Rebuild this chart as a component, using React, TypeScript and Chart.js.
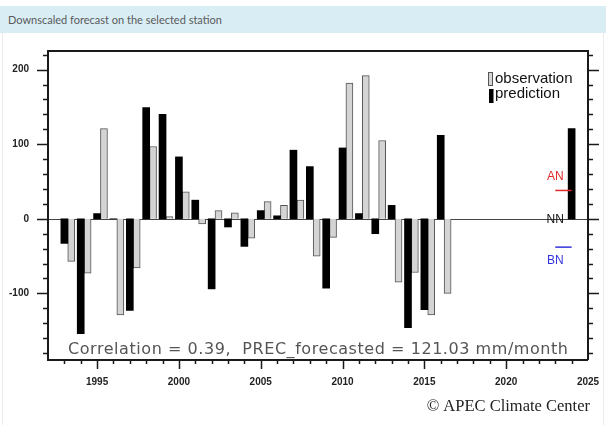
import React, { useEffect, useRef } from "react";
import { Chart, registerables } from "chart.js";

Chart.register(...registerables);

// ---- data ----
const PRED_YEARS = [1993, 1994, 1995, 1996, 1997, 1998, 1999, 2000, 2001, 2002, 2003, 2004, 2005, 2006, 2007, 2008, 2009, 2010, 2011, 2012, 2013, 2014, 2015, 2016, 2024];
const PREDICTION = [-33, -154, 7, 0, -123, 149, 140, 83, 25, -94, -11, -37, 11, 4, 92, 70, -93, 95, 7, -20, 18, -146, -122, 112, 121.03];
const OBS_YEARS = [1993, 1994, 1995, 1996, 1997, 1998, 1999, 2000, 2001, 2002, 2003, 2004, 2005, 2006, 2007, 2008, 2009, 2010, 2011, 2012, 2013, 2014, 2015, 2016];
const OBSERVATION = [-57, -73, 121, -129, -66, 97, 3, 36, -7, 11, 8, -26, 23, 18, 25, -50, -25, 182, 192, 105, -85, -72, -129, -100];
const X_TICKS = [1995, 2000, 2005, 2010, 2015, 2020, 2025];
const Y_TICKS = [-100, 0, 100, 200];
const TERCILE_YEAR = 2023;
const AN_BOUND = 38;
const BN_BOUND = -38;
const CORRELATION = "0.39";
const FORECAST = "121.03";
const OBS_OFFSET = 0.42;

const TICK_FONT = "bold 10px 'Liberation Sans', Arial, sans-serif";

const decor = {
  id: "decor",
  beforeDatasetsDraw(chart: any) {
    const { ctx, chartArea, scales } = chart;
    const y0 = Math.round(scales.y.getPixelForValue(0)) + 0.5;
    ctx.save();
    ctx.strokeStyle = "#444";
    ctx.lineWidth = 1;
    ctx.beginPath();
    ctx.moveTo(chartArea.left, y0);
    ctx.lineTo(chartArea.right, y0);
    ctx.stroke();
    ctx.restore();
  },
  afterDraw(chart: any) {
    const { ctx, chartArea, scales } = chart;
    const { left, right, top, bottom } = chartArea;
    const x = scales.x;
    const y = scales.y;
    ctx.save();
    // frame
    ctx.strokeStyle = "#1a1a1a";
    ctx.lineWidth = 2;
    ctx.beginPath();
    ctx.moveTo(left, top);
    ctx.lineTo(right, top);
    ctx.moveTo(left, top - 1);
    ctx.lineTo(left, bottom + 1);
    ctx.lineTo(right, bottom + 1);
    ctx.moveTo(right, top - 1);
    ctx.lineTo(right, bottom + 1);
    ctx.stroke();
    // y ticks (left + right)
    ctx.lineWidth = 1.5;
    ctx.beginPath();
    for (let v = -180; v <= 220; v += 20) {
      const py = Math.round(y.getPixelForValue(v)) + 0.5;
      const len = v % 100 === 0 ? 11 : 5;
      ctx.moveTo(left, py);
      ctx.lineTo(left - len, py);
      ctx.moveTo(right, py);
      ctx.lineTo(right + len, py);
    }
    // x ticks
    for (let yr = 1993; yr <= 2024; yr++) {
      const px = Math.round(x.getPixelForValue(yr)) + 0.5;
      const len = yr % 5 === 0 ? 10 : 5;
      ctx.moveTo(px, bottom);
      ctx.lineTo(px, bottom + len);
    }
    ctx.stroke();

    // tick labels
    ctx.font = TICK_FONT;
    ctx.fillStyle = "#222";
    ctx.textAlign = "right";
    ctx.textBaseline = "middle";
    Y_TICKS.forEach((v) => ctx.fillText(String(v), left - 19, y.getPixelForValue(v)));
    ctx.textAlign = "center";
    X_TICKS.forEach((v) => ctx.fillText(String(v), x.getPixelForValue(v), bottom + 23));

    // tercile markers
    const xa = x.getPixelForValue(TERCILE_YEAR);
    const xb = x.getPixelForValue(TERCILE_YEAR + 1);
    const yAN = y.getPixelForValue(AN_BOUND);
    const yBN = y.getPixelForValue(BN_BOUND);
    const y0 = y.getPixelForValue(0);
    ctx.lineWidth = 1.5;
    ctx.strokeStyle = "#e02a2a";
    ctx.beginPath();
    ctx.moveTo(xa, yAN);
    ctx.lineTo(xb, yAN);
    ctx.stroke();
    ctx.strokeStyle = "#3333dd";
    ctx.beginPath();
    ctx.moveTo(xa, yBN);
    ctx.lineTo(xb, yBN);
    ctx.stroke();
    ctx.font = "12px 'Liberation Sans', Arial, sans-serif";
    ctx.textAlign = "center";
    ctx.textBaseline = "middle";
    ctx.fillStyle = "#e02a2a";
    ctx.fillText("AN", xa, yAN - 14);
    ctx.fillStyle = "#111";
    ctx.fillText("NN", xa, y0 + 1);
    ctx.fillStyle = "#3333dd";
    ctx.fillText("BN", xa, yBN + 14);

    // legend
    ctx.textAlign = "left";
    ctx.textBaseline = "alphabetic";
    ctx.fillStyle = "#d4d4d4";
    ctx.fillRect(488.5, 72.5, 4, 13);
    ctx.strokeStyle = "#555";
    ctx.lineWidth = 1;
    ctx.strokeRect(488.5, 72.5, 4, 13);
    ctx.fillStyle = "#000";
    ctx.fillRect(489, 89, 4.5, 14);
    ctx.font = "15px 'Liberation Sans', Arial, sans-serif";
    ctx.fillStyle = "#111";
    ctx.fillText("observation", 495, 82.5);
    ctx.fillText("prediction", 495, 98);

    // correlation text
    ctx.font = "16px 'DejaVu Sans', sans-serif";
    ctx.fillStyle = "#555";
    const txt = `Correlation = ${CORRELATION},  PREC_forecasted = ${FORECAST} mm/month`;
    const w = ctx.measureText(txt).width;
    const spacing = (500 - w) / (txt.length - 1);
    (ctx as any).letterSpacing = `${spacing}px`;
    ctx.fillText(txt, 68, 354);
    (ctx as any).letterSpacing = "0px";

    // copyright
    ctx.font = "16.5px 'Liberation Serif', 'Times New Roman', serif";
    ctx.fillStyle = "#222";
    ctx.textAlign = "right";
    ctx.fillText("\u00A9 APEC Climate Center", 590, 411);
    ctx.restore();
  },
};

export default function App() {
  const ref = useRef<HTMLCanvasElement | null>(null);
  useEffect(() => {
    document.body.style.margin = "0";
    const canvas = ref.current;
    if (!canvas) return;
    const chart = new Chart(canvas, {
      type: "bar",
      data: {
        datasets: [
          {
            label: "prediction",
            data: PRED_YEARS.map((yr, i) => ({ x: yr, y: PREDICTION[i] })),
            backgroundColor: "#000",
            borderWidth: 0,
            barThickness: 7,
            grouped: false,
          } as any,
          {
            label: "observation",
            data: OBS_YEARS.map((yr, i) => ({ x: yr + OBS_OFFSET, y: OBSERVATION[i] })),
            backgroundColor: "#d4d4d4",
            borderColor: "#555",
            borderWidth: 1,
            barThickness: 7,
            grouped: false,
          } as any,
        ],
      },
      options: {
        animation: false,
        responsive: false,
        maintainAspectRatio: false,
        layout: { padding: { top: 51, right: 18, left: 0, bottom: 0 } },
        plugins: { legend: { display: false }, tooltip: { enabled: false } },
        scales: {
          x: {
            type: "linear",
            min: 1992,
            max: 2025,
            offset: false,
            grid: { display: false, drawTicks: false },
            border: { display: false },
            ticks: { display: false },
            afterFit: (s: any) => {
              s.height = 66;
            },
          },
          y: {
            type: "linear",
            min: -188,
            max: 225,
            grid: { display: false, drawTicks: false },
            border: { display: false },
            ticks: { display: false },
            afterFit: (s: any) => {
              s.width = 48;
            },
          },
        },
      } as any,
      plugins: [decor],
    });
    return () => chart.destroy();
  }, []);

  return (
    <div style={{ position: "relative", width: 606, height: 425, background: "#fff", overflow: "hidden" }}>
      <canvas ref={ref} width={606} height={425} style={{ position: "absolute", left: 0, top: 0, display: "block" }} />
      <div
        style={{
          position: "absolute",
          left: 0,
          top: 6,
          width: 606,
          height: 27,
          background: "#d9edf5",
          color: "#5a5a5a",
          fontFamily: "Lato, 'Noto Sans', sans-serif",
          fontSize: 11,
          lineHeight: "27px",
          paddingLeft: 8,
          boxSizing: "border-box",
        }}
      >
        Downscaled forecast on the selected station
      </div>
      <div
        style={{
          position: "absolute",
          left: 2,
          top: 33,
          width: 602,
          height: 392,
          borderLeft: "1px solid #ececec",
          borderRight: "1px solid #ececec",
          boxSizing: "border-box",
          pointerEvents: "none",
        }}
      />
    </div>
  );
}
